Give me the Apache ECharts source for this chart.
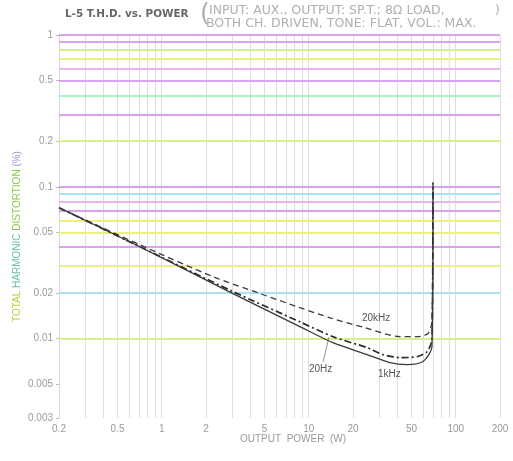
<!DOCTYPE html>
<html>
<head>
<meta charset="utf-8">
<script src="https://cdn.jsdelivr.net/npm/echarts@6/dist/echarts.min.js"></script>
<style>html,body{margin:0;padding:0;background:#fff;}#c{width:513px;height:461px;}</style>
</head>
<body>
<div id="c"></div>
<script>
// ---- data ----
var xTickLabels = [0.2, 0.5, 1, 2, 5, 10, 20, 50, 100, 200];
var yTickLabels = [1, 0.5, 0.2, 0.1, 0.05, 0.02, 0.01, 0.005, 0.003];
var xGridValues = [0.3,0.4,0.5,0.6,0.7,0.8,0.9,1,2,3,4,5,6,7,8,9,10,20,30,40,50,60,70,80,90,100,200];
var yGridValues = [1,0.9,0.8,0.7,0.6,0.5,0.4,0.3,0.2,0.1,0.09,0.08,0.07,0.06,0.05,0.04,0.03,0.02,0.01,0.009,0.008,0.007,0.006,0.005,0.004,0.003];
var yGridKinds  = ['M','M','YG','Y','P','M','G','M','YG','M','C','P','M','Y','Y','M','Y','C','M','C','M','M','G','YG','M','G'];

var power20k = [0.2, 0.71, 2.23, 4.66, 8.7, 14.0, 24.1, 41.8, 54.5, 64.7, 68.9, 70];
var thd20k   = [0.0728, 0.0415, 0.0256, 0.0198, 0.016, 0.0137, 0.0118, 0.0103, 0.0103, 0.0108, 0.0129, 0.111];
var power20  = [0.2, 0.71, 3.05, 8.7, 14.6, 24.9, 32, 41.8, 54.5, 63.7, 68.9, 70];
var thd20    = [0.0728, 0.0403, 0.0204, 0.0129, 0.0103, 0.00873, 0.00785, 0.0075, 0.0076, 0.0082, 0.00985, 0.105];
var power1k  = [0.2, 0.71, 3.05, 8.7, 14.6, 24.9, 35.7, 46.6, 59.9, 68.9, 70];
var thd1k    = [0.0728, 0.0403, 0.0198, 0.0120, 0.0094, 0.00785, 0.00695, 0.00675, 0.00706, 0.00886, 0.1];

// ---- styles ----
var kindColor = {M:'#d9a3ef', Y:'#ecf07e', YG:'#d6f08c', G:'#a9efc0', C:'#a9e4f0', P:'#ebb6ee'};
function pairs(xs, ys){ return xs.map(function(x,i){ return [x, ys[i]]; }); }

var hLines = yGridValues.map(function(v,i){
  return {yAxis: v, lineStyle:{color: kindColor[yGridKinds[i]], width: 1.8, type:'solid'}};
});
var vLines = xGridValues.map(function(v){
  return {xAxis: v, lineStyle:{color:'#dedede', width:1, type:'solid'}};
});

var chart = echarts.init(document.getElementById('c'));
var labelFont = {color:'#9a9a9a', fontSize:10, fontFamily:'Liberation Sans'};

chart.setOption({
  animation:false,
  backgroundColor:'#fff',
  grid:{left:59, top:35, right:13, bottom:43},
  xAxis:{
    type:'log', min:0.2, max:200, logBase:10,
    axisLine:{show:false},
    axisTick:{show:false},
    splitLine:{show:false},
    axisLabel:Object.assign({customValues:xTickLabels, margin:6, formatter:function(v){return String(+v.toPrecision(3));}}, labelFont)
  },
  yAxis:{
    type:'log', min:0.003, max:1, logBase:10,
    axisLine:{show:true, lineStyle:{color:'#d8d8d8', width:1}},
    axisTick:{show:true, customValues:yTickLabels, length:3, lineStyle:{color:'#bbb'}},
    splitLine:{show:false},
    axisLabel:Object.assign({customValues:yTickLabels, margin:6, formatter:function(v){return String(+v.toPrecision(3));}}, labelFont)
  },
  series:[
    {type:'line', data:[], silent:true,
     markLine:{silent:true, symbol:'none', label:{show:false}, animation:false, data: vLines.concat(hLines)}},
    {name:'20kHz', type:'line', data:pairs(power20k, thd20k), smooth:0.25, showSymbol:false, z:5,
     lineStyle:{color:'#3a3a3a', width:1.3, type:[6,4]}},
    {name:'20Hz', type:'line', data:pairs(power20, thd20), smooth:0.25, showSymbol:false, z:5,
     lineStyle:{color:'#2a2a2a', width:1.7, type:[7,3,2,3]}},
    {name:'1kHz', type:'line', data:pairs(power1k, thd1k), smooth:0.25, showSymbol:false, z:5,
     lineStyle:{color:'#3a3a3a', width:1.3}}
  ],
  graphic:[
    {type:'text', left:65, top:9, style:{text:'L-5 T.H.D. vs. POWER', fill:'#666', font:'bold 10.4px "DejaVu Sans"'}},
    {type:'text', left:200, top:2, style:{text:'(', fill:'#b0b0b0', font:'25px "DejaVu Sans"'}},
    {type:'text', left:209, top:4, style:{text:'INPUT: AUX., OUTPUT: SP.T.; 8\u03A9 LOAD,', fill:'#b0b0b0', font:'12.5px "DejaVu Sans"'}},
    {type:'text', left:206, top:17, style:{text:'BOTH CH. DRIVEN, TONE: FLAT, VOL.: MAX.', fill:'#b0b0b0', font:'12.5px "DejaVu Sans"'}},
    {type:'text', left:495, top:5, style:{text:')', fill:'#b0b0b0', font:'12px "DejaVu Sans"'}},
    {type:'text', left:240, top:434, style:{text:'OUTPUT  POWER  (W)', fill:'#9a9a9a', font:'10px "Liberation Sans"'}},
    {type:'text', x:12, y:322, rotation:Math.PI/2, style:{
      text:'{a|TOTAL} {b|HARMONIC} {c|DISTORTION} {d|(%)}',
      font:'10px "Liberation Sans"',
      rich:{a:{fill:'#b4d33a', font:'10px "Liberation Sans"'}, b:{fill:'#6cc4a4', font:'10px "Liberation Sans"'}, c:{fill:'#8fcc44', font:'10px "Liberation Sans"'}, d:{fill:'#a88fd8', font:'10px "Liberation Sans"'}}
    }},
    {type:'text', left:362, top:313, z:10, style:{text:'20kHz', fill:'#555', font:'10px "Liberation Sans"'}},
    {type:'text', left:309, top:364, z:10, style:{text:'20Hz', fill:'#555', font:'10px "Liberation Sans"'}},
    {type:'text', left:378, top:369, z:10, style:{text:'1kHz', fill:'#555', font:'10px "Liberation Sans"'}},
    {type:'line', z:10, shape:{x1:323, y1:362, x2:329, y2:337}, style:{stroke:'#777', lineWidth:0.8}}
  ]
});
</script>
</body>
</html>
